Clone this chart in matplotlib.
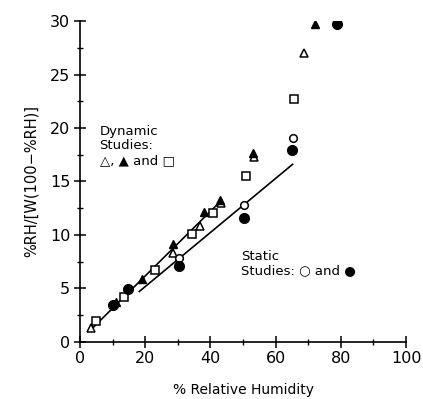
import numpy as np
import matplotlib
matplotlib.use("Agg")
import matplotlib.pyplot as plt
from matplotlib.ticker import MultipleLocator

plt.rcParams['font.family'] = ['DejaVu Sans']

# Dynamic studies
dyn_open_tri_x = [3.5, 28.4, 36.8, 43.1, 53.5, 68.7]
dyn_open_tri_y = [1.3, 8.3, 10.8, 13.0, 17.3, 27.0]
dyn_filled_tri_x = [11.2, 18.9, 28.6, 38.1, 42.9, 53.2, 72.1]
dyn_filled_tri_y = [3.7, 5.9, 9.1, 12.1, 13.3, 17.7, 29.7]
dyn_square_x = [5.0, 13.5, 23.0, 34.3, 40.7, 50.8, 65.6]
dyn_square_y = [1.9, 4.2, 6.7, 10.1, 12.0, 15.5, 22.7]

# Static studies
stat_open_circ_x = [30.5, 50.4, 65.2]
stat_open_circ_y = [7.8, 12.8, 19.1]
stat_filled_circ_x = [10.0, 14.8, 30.4, 50.4, 65.1, 78.7]
stat_filled_circ_y = [3.4, 4.9, 7.1, 11.6, 17.9, 29.7]

# fitted lines
dyn_fit_x = [3.3, 43.3]
dyn_fit_y = [1.1, 13.2]
stat_fit_x = [18.2, 65.2]
stat_fit_y = [4.7, 16.6]

fig = plt.figure(figsize=(4.23, 3.99), dpi=100)
ax = fig.add_axes([0.189, 0.1436, 0.771, 0.8034])

ax.plot(dyn_fit_x, dyn_fit_y, color='black', lw=1.2)
ax.plot(stat_fit_x, stat_fit_y, color='black', lw=1.2)

ax.plot(dyn_open_tri_x, dyn_open_tri_y, '^', ms=5.5, mfc='white', mec='black', mew=1.1, ls='none')
ax.plot(dyn_filled_tri_x, dyn_filled_tri_y, '^', ms=6, color='black', ls='none')
ax.plot(dyn_square_x, dyn_square_y, 's', ms=5.5, mfc='white', mec='black', mew=1.1, ls='none')
ax.plot(stat_open_circ_x, stat_open_circ_y, 'o', ms=5.5, mfc='white', mec='black', mew=1.1, ls='none')
ax.plot(stat_filled_circ_x, stat_filled_circ_y, 'o', ms=7, color='black', ls='none')

ax.set_xlim(0, 100)
ax.set_ylim(0, 30)
ax.spines['top'].set_visible(False)
ax.spines['right'].set_visible(False)
ax.spines['left'].set_linewidth(1.2)
ax.spines['bottom'].set_linewidth(1.2)

ax.xaxis.set_major_locator(MultipleLocator(20))
ax.xaxis.set_minor_locator(MultipleLocator(10))
ax.yaxis.set_major_locator(MultipleLocator(5))
ax.yaxis.set_minor_locator(MultipleLocator(2.5))
ax.tick_params(which='major', direction='inout', length=8, width=1.1, labelsize=11.5, pad=3)
ax.tick_params(which='minor', direction='inout', length=5, width=1.0)

ax.set_xlabel('% Relative Humidity', fontsize=10, labelpad=12)
ax.set_ylabel('%RH/[W(100\u2212%RH)]', fontsize=10.5, labelpad=8)

ax.text(6.0, 20.3, 'Dynamic\nStudies:\n\u25b3, \u25b2 and \u25a1', fontsize=9.5,
        va='top', ha='left', linespacing=1.15)
ax.text(49.5, 8.6, 'Static\nStudies: \u25cb and \u25cf', fontsize=9.5,
        va='top', ha='left', linespacing=1.15)

fig.savefig('out.png', dpi=100)
